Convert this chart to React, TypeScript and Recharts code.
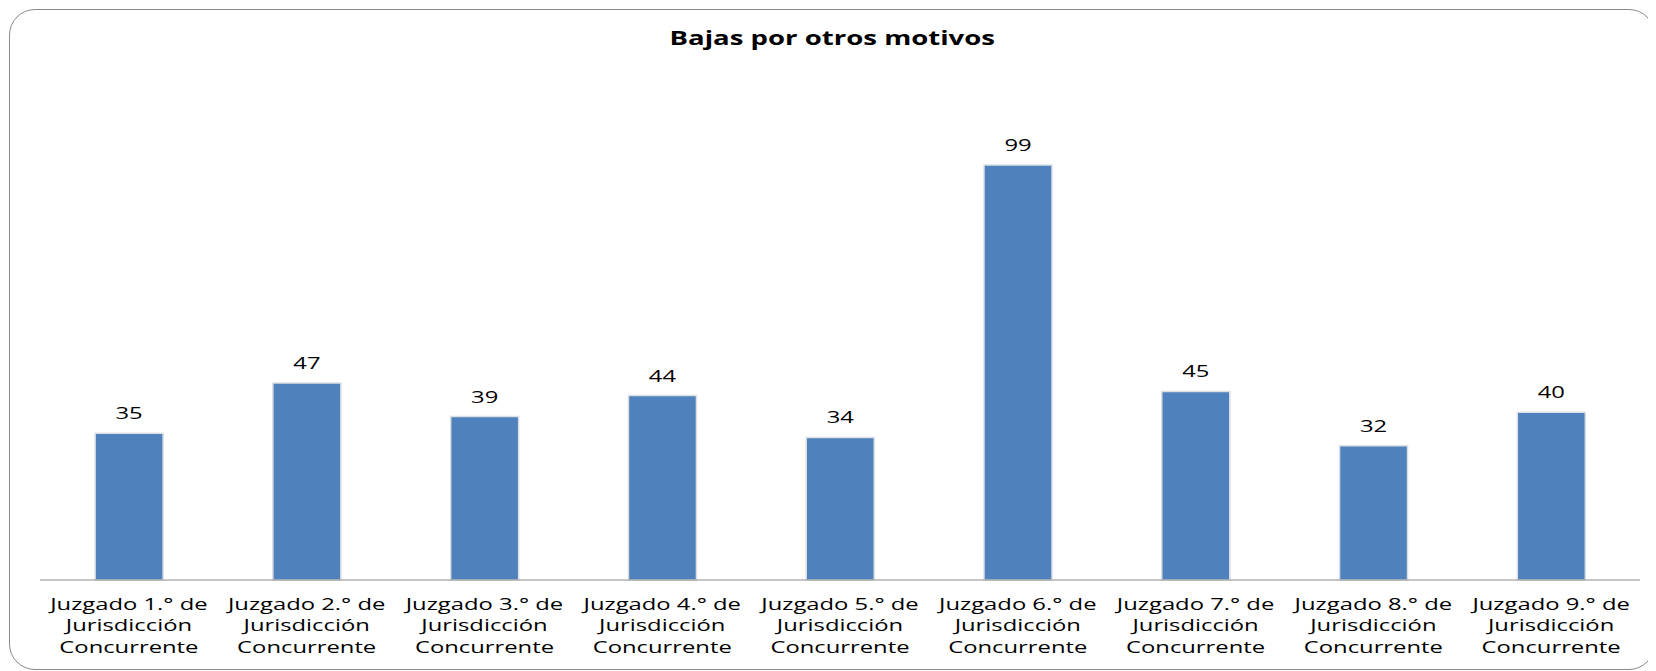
import { Bar, BarChart, LabelList, XAxis, YAxis } from "recharts"

const courts = [
  "Juzgado 1.° de",
  "Juzgado 2.° de",
  "Juzgado 3.° de",
  "Juzgado 4.° de",
  "Juzgado 5.° de",
  "Juzgado 6.° de",
  "Juzgado 7.° de",
  "Juzgado 8.° de",
  "Juzgado 9.° de",
]
const bajas = [35, 47, 39, 44, 34, 99, 45, 32, 40]

const data = courts.map((court, i) => ({ court, bajas: bajas[i] }))

const FONT = "'Open Sans', sans-serif"
// the source picture is stretched sideways, so the text is widened to match
const STRETCH = 1.4

function CourtTick(props: any) {
  const { x, y, payload } = props
  const lines = [payload.value, "Jurisdicción", "Concurrente"]
  return (
    <g transform={`translate(${x},${y}) scale(${STRETCH},1)`}>
      {lines.map((line, i) => (
        <text
          key={i}
          x={0}
          y={i * 21.5}
          dy={22}
          textAnchor="middle"
          fill="#000"
          fontSize={17}
          fontFamily={FONT}
        >
          {line}
        </text>
      ))}
    </g>
  )
}

function ValueLabel(props: any) {
  const { x, y, width, value } = props
  const cx = x + width / 2
  return (
    <text
      transform={`translate(${cx},${y - 14}) scale(${STRETCH},1)`}
      textAnchor="middle"
      fill="#000"
      fontSize={17}
      fontFamily={FONT}
    >
      {value}
    </text>
  )
}

export default function App() {
  return (
    <div
      style={{
        position: "relative",
        width: 1644,
        height: 659,
        marginLeft: 1,
        marginTop: 1,
        border: "1.5px solid #8a8a8a",
        borderRadius: 26,
        background: "#fff",
      }}
    >
      <div
        style={{
          position: "absolute",
          top: 15,
          left: 0,
          width: "100%",
          textAlign: "center",
        }}
      >
        <span
          style={{
            display: "inline-block",
            transform: `scaleX(${STRETCH + 0.05})`,
            fontFamily: FONT,
            fontWeight: "bold",
            fontSize: 19,
          }}
        >
          Bajas por otros motivos
        </span>
      </div>
      <BarChart
        width={1644}
        height={659}
        data={data}
        margin={{ top: 67, right: 14, left: 30, bottom: 9 }}
        barCategoryGap="31%"
      >
        <XAxis
          dataKey="court"
          tickLine={false}
          axisLine={{ stroke: "#8c8c8c", strokeWidth: 1 }}
          tick={<CourtTick />}
          interval={0}
          height={80}
        />
        <YAxis hide domain={[0, 120]} />
        <Bar
          dataKey="bajas"
          fill="#4F81BD"
          stroke="#dcdfe4"
          strokeWidth={1.5}
          isAnimationActive={false}
        >
          <LabelList dataKey="bajas" content={<ValueLabel />} />
        </Bar>
      </BarChart>
    </div>
  )
}
